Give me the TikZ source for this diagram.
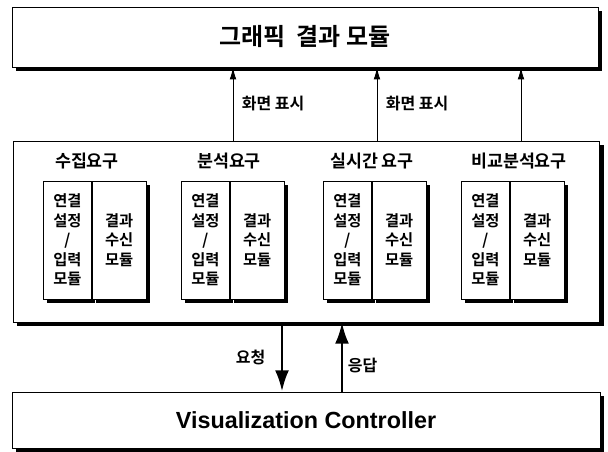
\documentclass[tikz,border=0pt]{standalone}
\usepackage{fontspec}
\newfontfamily\kr{Noto Sans CJK KR}[BoldFont={Noto Sans CJK KR Bold}]
\newfontfamily\arl{Liberation Sans}
\usetikzlibrary{arrows.meta}
\usetikzlibrary{shadows}
\usetikzlibrary{positioning}

\begin{document}
\begin{tikzpicture}[x=0.75pt, y=-0.75pt,
        box/.style={draw, fill=white, line width=0.6pt,
            drop shadow={shadow xshift=3pt, shadow yshift=-3pt, fill=black, opacity=1}},
        part/.style={box, minimum height=88.5pt, inner sep=0pt, align=center,
            font=\kr\bfseries\fontsize{11.5}{14.6}\selectfont},
        lbl/.style={font=\kr\bfseries\fontsize{12}{14}\selectfont},
        thin/.style={-{Latex[length=9pt, width=5pt]}, line width=0.7pt},
        thick/.style={-{Latex[length=16pt, width=10.5pt]}, line width=2.2pt}]
        \useasboundingbox (0,0) rectangle (608,451);

        \node[box, minimum width=439.5pt, minimum height=45pt,
            font=\kr\bfseries\fontsize{18}{20}\selectfont] (graph) at (305,37) {그래픽\ \ 결과 모듈};
        \node[box, minimum width=440pt, minimum height=135.75pt] (req) at (306.5,231.5) {};
        \node[box, minimum width=441pt, minimum height=42pt,
            font=\arl\bfseries\fontsize{17.5}{20}\selectfont] (ctrl) at (306,420) {Visualization Controller};

        % one column per request type
        \foreach \i/\x/\tx/\t in {1/43/87/수집요구, 2/181/229/분석요구, 3/323/372/실시간 요구, 4/461/519/비교분석요구} {
            \node[lbl, font=\kr\bfseries\fontsize{13}{15}\selectfont] (title\i) at (\tx,161) {\t};
            \node[part, minimum width=36pt, anchor=west] (conn\i) at (\x,240) {연결\\설정\\/\\입력\\모듈};
            \node[part, minimum width=40.5pt, right=0pt of conn\i] (recv\i) {결과\\수신\\모듈};
        }

        \coordinate (a1) at (233,0);
        \coordinate (a2) at (377,0);
        \coordinate (a3) at (521,0);
        \coordinate (b1) at (282,0);
        \coordinate (b2) at (342,0);

        \draw[thin] (req.north -| a1) -- node[lbl, right=3pt] {화면 표시} (graph.south -| a1);
        \draw[thin] (req.north -| a2) -- node[lbl, right=3pt] {화면 표시} (graph.south -| a2);
        \draw[thin] (req.north -| a3) -- (graph.south -| a3);

        \draw[thick] (req.south -| b1) -- node[lbl, left=8pt] {요청} (ctrl.north -| b1);
        \draw[thick] (ctrl.north -| b2) -- node[lbl, pos=.37, right] {응답} (req.south -| b2);
    \end{tikzpicture}
\end{document}
